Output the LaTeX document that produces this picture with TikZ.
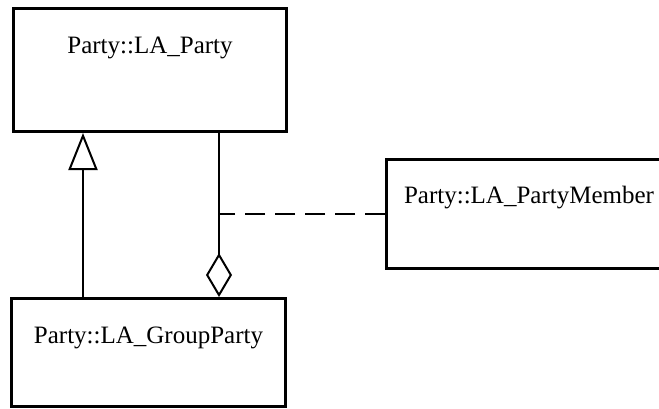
\documentclass[tikz,border=0pt]{standalone}
\usepackage{fontspec}
\setmainfont{Liberation Serif}
\usetikzlibrary{arrows.meta}

\begin{document}
\begin{tikzpicture}[x=1pt,y=-1pt,
  classbox/.style={draw,line width=3pt,inner sep=0pt,anchor=north west,
    font=\fontsize{25}{29}\selectfont},
  link/.style={line width=2pt}]
\useasboundingbox (0,0) rectangle (659,408);
% classes
\node[classbox,minimum width=273pt,text height=45pt,text depth=78pt] (party) at (12,7) {Party::LA\_Party};
\node[classbox,minimum width=285pt,text height=44pt,text depth=65pt] (member) at (385,158) {Party::LA\_PartyMember};
\node[classbox,minimum width=274pt,text height=45pt,text depth=63pt] (group) at (10,297) {Party::LA\_GroupParty};
% generalization
\draw[link,-{Triangle[open,length=37pt,width=29pt]}] ([xshift=73pt]group.north west) -- ([xshift=71pt]party.south west);
% aggregation
\coordinate (pa) at ([xshift=207pt]party.south west);
\draw[link,{Diamond[open,length=44pt,width=26pt]}-] ([xshift=209pt]group.north west) -- (pa);
\draw[link,dash pattern=on 20pt off 10pt] (member.west) -- (member.west -| pa);
\end{tikzpicture}
\end{document}
